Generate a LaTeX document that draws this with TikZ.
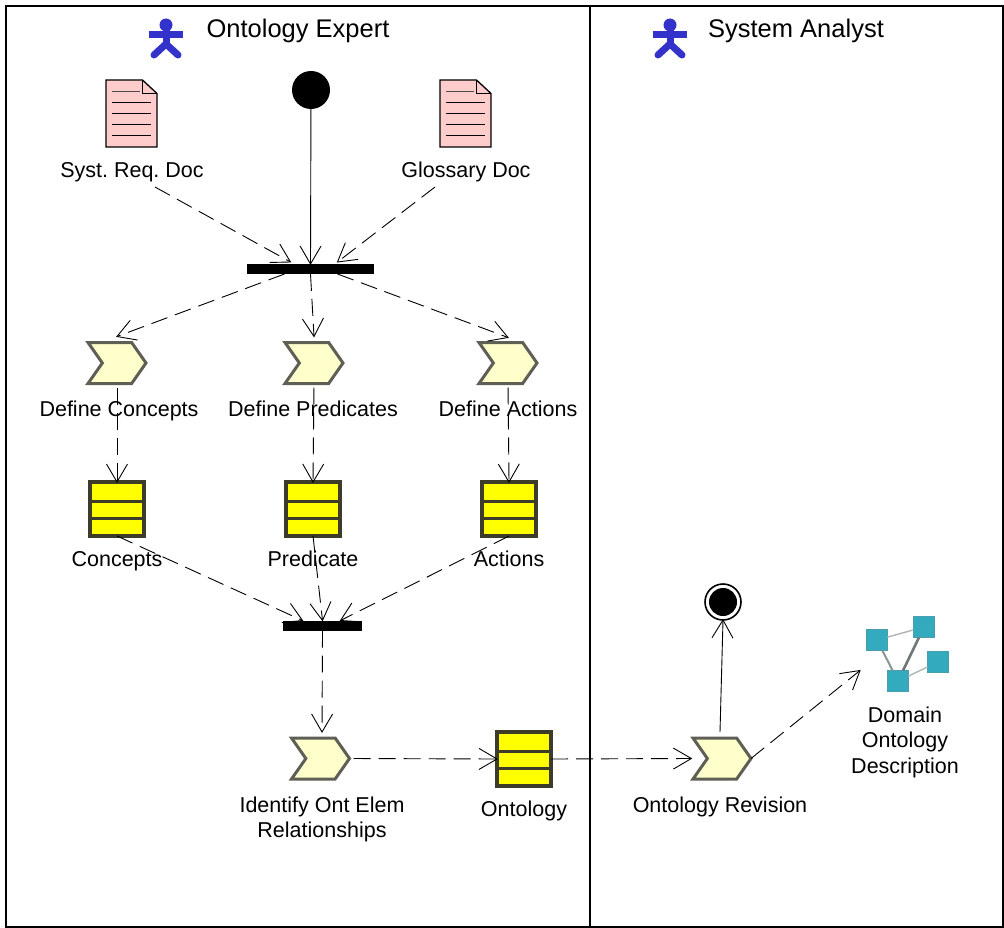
\documentclass[tikz,border=0pt]{standalone}
\usepackage{fontspec}
\setmainfont{Liberation Sans}
\definecolor{actorblue}{RGB}{51,51,204}
\definecolor{docpink}{RGB}{255,204,204}
\definecolor{taskcream}{RGB}{255,255,204}
\definecolor{taskedge}{RGB}{95,95,85}
\definecolor{storeyellow}{RGB}{255,255,0}
\definecolor{storeedge}{RGB}{60,60,40}
\definecolor{netteal}{RGB}{51,170,190}
\definecolor{netedge}{RGB}{140,150,145}
\usetikzlibrary{shapes.symbols,arrows.meta,positioning,calc}
\frenchspacing
\pgfdeclarearrow{
    name=OpenVee,
    setup code={\pgfarrowssettipend{0pt}\pgfarrowssetlineend{-0.6pt}\pgfarrowssetbackend{-18pt}\pgfarrowssetvisualbackend{-1pt}},
    drawing code={
        \pgfsetdash{}{0pt}
        \pgfsetlinewidth{0.9pt}
        \pgfpathmoveto{\pgfpoint{-18pt}{10.5pt}}
        \pgfpathlineto{\pgfpointorigin}
        \pgfpathlineto{\pgfpoint{-18pt}{-10.5pt}}
        \pgfusepathqstroke
    }
}
\tikzset{
    every node/.style={font=\fontsize{21.5}{24}\selectfont, inner sep=0pt, outer sep=0pt},
    labeltext/.style={text height=16pt, text depth=5pt},
    titletext/.style={font=\fontsize{25.5}{27}\selectfont, text height=19pt, text depth=6pt},
    flow/.style={-OpenVee, line width=0.9pt},
    flowdash/.style={flow, dash pattern=on 17pt off 8pt},
    taskbox/.style={signal, signal from=west, signal to=east, signal pointer angle=110,
        draw=taskedge, fill=taskcream, line width=3pt, minimum width=58pt, minimum height=41pt},
    storebox/.style={draw=storeedge, fill=storeyellow, line width=3.5pt, minimum width=54pt, minimum height=54pt,
        path picture={
            \draw[storeedge, line width=3pt] ($(path picture bounding box.north west)!0.37!(path picture bounding box.south west)$) -- ($(path picture bounding box.north east)!0.37!(path picture bounding box.south east)$);
            \draw[storeedge, line width=3pt] ($(path picture bounding box.north west)!0.68!(path picture bounding box.south west)$) -- ($(path picture bounding box.north east)!0.68!(path picture bounding box.south east)$);
        }},
    syncbar/.style={fill=black, minimum height=10pt},
    netnode/.style={draw=netteal!70!gray, fill=netteal, line width=1.2pt, minimum size=21pt},
    netlink/.style={netedge, line width=2pt},
    actor/.pic={
        \fill[actorblue] (0,-15) circle (6.5);
        \draw[actorblue, line width=7pt] (-17,-5) -- (17,-5);
        \draw[actorblue, line width=7pt, line cap=round] (12,15) -- (0,4) -- (-12,15);
        \draw[actorblue, line width=7pt] (0,-12) -- (0,4);
    },
    docicon/.pic={
        \draw[fill=docpink, line width=1.3pt] (-25.5,-33.5) -- (11,-33.5) -- (25.5,-20) -- (25.5,33.5) -- (-25.5,33.5) -- cycle;
        \draw[line width=1.1pt] (11,-33.5) -- (11,-20) -- (25.5,-20);
        \draw[line width=0.9pt, black!70] (-20,-22.5) -- (8,-22.5);
        \foreach \y in {-11.5,-0.5,10.5,21.5}
            \draw[line width=0.9pt] (-20,\y) -- (19,\y);
    }
}
\begin{document}
\begin{tikzpicture}[x=1pt, y=-1pt]
    \useasboundingbox (0,0) rectangle (1004,928);
    \draw[line width=1.8pt] (6,6) rectangle (1003,927);
    \draw[line width=1.8pt] (590,6) -- (590,927);

    \pic at (166,40) {actor};
    \pic at (670,40) {actor};
    \node[titletext] (expert) at (298,31) {Ontology Expert};
    \node[titletext] (analyst) at (796,31) {System Analyst};

    \pic at (131.5,113.5) {docicon};
    \pic at (465.5,113.5) {docicon};
    \node[labeltext] (sysreq) at (132,172.5) {Syst. Req. Doc};
    \node[labeltext] (glossary) at (466,172.5) {Glossary Doc};

    \node[circle, fill=black, minimum size=38pt] (start) at (311,90) {};
    \node[syncbar, minimum width=127pt] (forkbar) at (310.5,269) {};

    \node[taskbox] (taskconcepts) at (117,363) {};
    \node[taskbox] (taskpredicates) at (314,363) {};
    \node[taskbox] (taskactions) at (508,363) {};
    \node[labeltext] (labconcepts) at (119,410.5) {Define Concepts};
    \node[labeltext] (labpredicates) at (313,410.5) {Define Predicates};
    \node[labeltext] (labactions) at (508,410.5) {Define Actions};

    \node[storebox] (storeconcepts) at (117,509) {};
    \node[storebox] (storepredicate) at (313,509) {};
    \node[storebox] (storeactions) at (509,509) {};
    \node[labeltext] (labstoreconcepts) at (117,560.5) {Concepts};
    \node[labeltext] (labstorepredicate) at (313,560.5) {Predicate};
    \node[labeltext] (labstoreactions) at (509,560.5) {Actions};

    \node[syncbar, minimum width=79pt] (joinbar) at (322.5,625.5) {};

    \node[taskbox] (taskidentify) at (320.5,758.5) {};
    \node[align=center] (labidentify) at (322,819) {Identify Ont Elem\\[1pt]Relationships};
    \node[storebox] (storeontology) at (524,759) {};
    \node[labeltext] (labontology) at (524,810.5) {Ontology};
    \node[taskbox] (taskrevision) at (722,758.5) {};
    \node[labeltext] (labrevision) at (720,806.5) {Ontology Revision};

    \node[circle, draw=black, fill=white, line width=1.6pt, minimum size=36pt] (finish) at (723,602) {};
    \node[circle, fill=black, minimum size=28pt] at (finish) {};

    \node[netnode] (netA) at (877,640) {};
    \node[netnode] (netB) at (924,627) {};
    \node[netnode] (netC) at (938,662) {};
    \node[netnode] (netD) at (898,681) {};
    \draw[netlink, line width=1.4pt, netedge!70] (netA) -- (netB);
    \draw[netlink] (netA) -- (netD);
    \draw[netlink, line width=2.6pt, netedge!80!black] (netB) -- (netD);
    \draw[netlink, line width=1.4pt, netedge!70] (netC) -- (netD);
    \node[align=center] (labdomain) at (905,742) {Domain\\[1.5pt]Ontology\\[1.5pt]Description};

    \draw[flow] (start) -- (forkbar.north);
    \draw[flowdash] ([xshift=23pt,yshift=-4pt]sysreq.south) -- ([xshift=-20pt,yshift=2pt]forkbar.north);
    \draw[flowdash] ([xshift=-31pt,yshift=-4pt]glossary.south) -- ([xshift=27pt,yshift=2pt]forkbar.north);

    \draw[flowdash] ([xshift=-26pt]forkbar.south) -- ([yshift=6pt]taskconcepts.north);
    \draw[flowdash] (forkbar.south) -- ([yshift=6pt]taskpredicates.north);
    \draw[flowdash] ([xshift=27pt]forkbar.south) -- ([yshift=5pt]taskactions.north);

    \draw[flowdash, shorten <=4pt] (taskconcepts.south) -- (storeconcepts.north);
    \draw[flowdash, shorten <=4pt] (taskpredicates.south) -- (storepredicate.north);
    \draw[flowdash, shorten <=4pt] (taskactions.south) -- (storeactions.north);

    \draw[flowdash] (storeconcepts.south) -- ([xshift=-20pt]joinbar.north);
    \draw[flowdash] (storepredicate.south) -- (joinbar.north);
    \draw[flowdash] (storeactions.south) -- ([xshift=18pt]joinbar.north);

    \draw[flowdash] (joinbar.south) -- ([yshift=6pt,xshift=1.5pt]taskidentify.north);
    \draw[flowdash, shorten <=4pt] (taskidentify.east) -- (storeontology.west);
    \draw[flowdash] (storeontology.east) -- ([xshift=-16pt]taskrevision.west);
    \draw[flow] ([yshift=6pt,xshift=-2pt]taskrevision.north) -- (finish.south);
    \draw[flowdash] (taskrevision.east) -- ([xshift=-17pt,yshift=-20pt]netA.south);
\end{tikzpicture}
\end{document}
